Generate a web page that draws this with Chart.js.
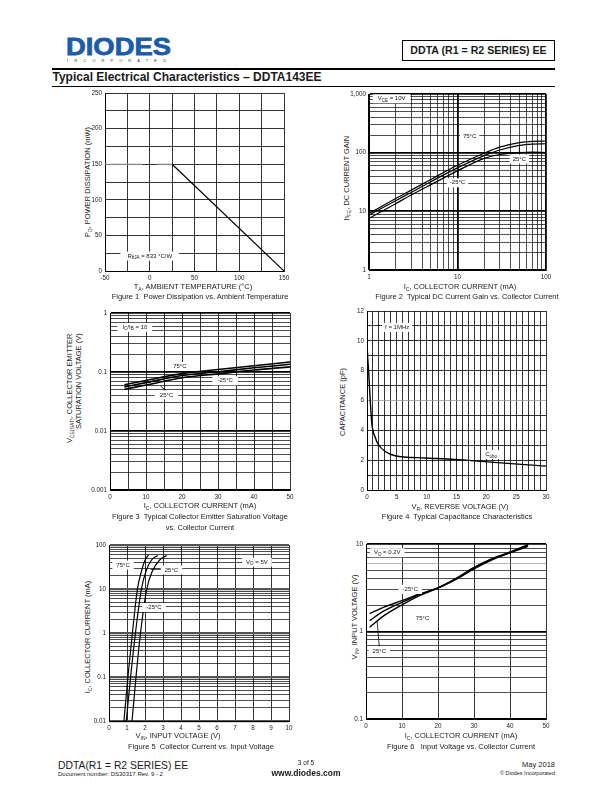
<!DOCTYPE html>
<html>
<head>
<meta charset="utf-8">
<script src="https://cdn.jsdelivr.net/npm/chart.js@4"></script>
<style>
body{margin:0;width:612px;height:792px;position:relative;background:#fff;font-family:"Liberation Sans",Arial,sans-serif;color:#1a1a1a;overflow:hidden}
.t{position:absolute;white-space:nowrap;transform:translate(-50%,-50%);font-size:7.5px;line-height:1;will-change:transform}
.v{transform:translate(-50%,-50%) rotate(-90deg);will-change:auto}
.cap{font-size:7.5px}
sub{font-size:5px;vertical-align:-1.5px;line-height:0}
canvas{position:absolute}
</style>
</head>
<body>
<!-- header -->
<div style="position:absolute;left:66px;top:35px;font:bold 24px 'Liberation Sans';color:#1d5ca8;line-height:1;-webkit-text-stroke:0.8px #1d5ca8;transform:scaleX(1.14);transform-origin:left top">DIODES</div>
<div style="position:absolute;left:67px;top:59px;font-size:4px;letter-spacing:6.1px;color:#333;line-height:1">INCORPORATED</div>
<div style="position:absolute;left:402px;top:40px;width:151px;height:19px;border:1px solid #000;font:bold 10.6px 'Liberation Sans';line-height:19px;text-align:center">DDTA (R1 = R2 SERIES) EE</div>
<div style="position:absolute;left:52px;top:67.5px;width:503px;height:2.5px;background:#000"></div>
<div style="position:absolute;left:52.5px;top:71.4px;font:bold 12px 'Liberation Sans';line-height:1">Typical Electrical Characteristics – DDTA143EE</div>
<div style="position:absolute;left:52px;top:86px;width:503px;height:1px;background:#000"></div>

<!-- figure 1 -->
<div class="t v" style="left:88px;top:182px">P<sub>D</sub>, POWER DISSIPATION (mW)</div>
<div class="t" style="left:193px;top:287px">T<sub>A</sub>, AMBIENT TEMPERATURE (°C)</div>
<div class="t cap" style="left:200px;top:296.5px">Figure 1&nbsp; Power Dissipation vs. Ambient Temperature</div>
<!-- figure 2 -->
<div class="t v" style="left:347px;top:178px">h<sub>FE</sub>, DC CURRENT GAIN</div>
<div class="t" style="left:460px;top:287px">I<sub>C</sub>, COLLECTOR CURRENT (mA)</div>
<div class="t cap" style="left:467px;top:297px">Figure 2&nbsp; Typical DC Current Gain vs. Collector Current</div>
<!-- figure 3 -->
<div style="position:absolute;left:66px;top:333px;height:155px;writing-mode:vertical-rl;transform:rotate(180deg);text-align:end;font-size:7.5px;line-height:8.5px;white-space:nowrap">V<sub>CE(SAT)</sub>, COLLECTOR EMITTER<br>SATURATION VOLTAGE (V)</div>
<div class="t" style="left:200px;top:506px">I<sub>C</sub>, COLLECTOR CURRENT (mA)</div>
<div class="t cap" style="left:200px;top:516.5px">Figure 3&nbsp; Typical Collector Emitter Saturation Voltage</div>
<div class="t cap" style="left:200px;top:528px">vs. Collector Current</div>
<!-- figure 4 -->
<div class="t v" style="left:343px;top:402px">CAPACITANCE (pF)</div>
<div class="t" style="left:460px;top:507px">V<sub>R</sub>, REVERSE VOLTAGE (V)</div>
<div class="t cap" style="left:457px;top:517px">Figure 4&nbsp; Typical Capacitance Characteristics</div>
<!-- figure 5 -->
<div class="t v" style="left:88px;top:637px">I<sub>C</sub>, COLLECTOR CURRENT (mA)</div>
<div class="t" style="left:178px;top:736px">V<sub>IN</sub>, INPUT VOLTAGE (V)</div>
<div class="t cap" style="left:201px;top:746.5px">Figure 5&nbsp; Collector Current vs. Input Voltage</div>
<!-- figure 6 -->
<div class="t v" style="left:355px;top:617px">V<sub>IN</sub>, INPUT VOLTAGE (V)</div>
<div class="t" style="left:461px;top:736px">I<sub>C</sub>, COLLECTOR CURRENT (mA)</div>
<div class="t cap" style="left:461px;top:747px">Figure 6&nbsp;&nbsp; Input Voltage vs. Collector Current</div>

<!-- footer -->
<div style="position:absolute;left:58px;top:760px;font-size:11.5px;line-height:1;transform:scaleX(0.9);transform-origin:left top">DDTA(R1 = R2 SERIES) EE</div>
<div style="position:absolute;left:58px;top:771px;font-size:6px;line-height:1">Document number: DS30317 Rev. 9 - 2</div>
<div class="t" style="left:306px;top:763px;font-size:6.5px">3 of 5</div>
<div class="t" style="left:306px;top:772.5px;font-size:8.5px;font-weight:bold">www.diodes.com</div>
<div style="position:absolute;right:57px;top:761px;font-size:7.5px;line-height:1">May 2018</div>
<div style="position:absolute;right:57px;top:770.5px;font-size:5.5px;line-height:1">© Diodes Incorporated</div>

<script>
// Figure 1: power dissipation vs ambient temperature
const c1FlatTemp = [-50, -8, 0, 8, 25];
const c1FlatPd = [150, 150, null, 150, 150];
const c1Temp = [25, 150];
const c1Pd = [150, 0];

// Figure 2: DC current gain vs collector current
const c2Ic = [1, 2, 3, 5, 10, 20, 30, 50, 70, 100];
const c2Hfe75 = [9.2, 16.5, 23, 35, 61, 98, 124, 148, 156, 158];
const c2Hfe25 = [8.6, 15.2, 21, 32, 55, 89, 111, 133, 140, 142];
const c2HfeM25 = [7.6, 13.5, 19, 28.5, 49, 80, 93, 100, 102, 100];
const c2ArrowX = [50, 50];
const c2ArrowY = [89, 125];

// Figure 3: VCE(sat) vs collector current
const c3Ic = [4, 10, 20, 30, 40, 50];
const c3Vce75 = [0.061, 0.072, 0.094, 0.11, 0.128, 0.148];
const c3VceM25 = [0.056, 0.066, 0.087, 0.101, 0.118, 0.135];
const c3Vce25 = [0.051, 0.060, 0.080, 0.093, 0.108, 0.122];
const c3ArrowX = [16, 14];
const c3ArrowY = [0.046, 0.058];

// Figure 4: capacitance vs reverse voltage
const c4Vr = [0, 0.1, 0.28, 0.55, 0.83, 1.4, 1.9, 3, 4.7, 9.7, 14.7, 19.7, 24.7, 30];
const c4Cobo = [9.8, 9.0, 7.9, 5.95, 4.4, 3.5, 3.05, 2.6, 2.3, 2.15, 2.05, 1.9, 1.75, 1.6];

// Figure 5: collector current vs input voltage
const c5Vin75 = [0.83, 1.05, 1.3, 1.58, 1.8, 2.0, 2.2];
const c5Ic75 = [0.01, 0.1, 1, 10, 25, 45, 60];
const c5Vin25 = [0.96, 1.2, 1.47, 1.8, 2.05, 2.35, 2.7];
const c5Ic25 = [0.01, 0.1, 1, 10, 25, 45, 58];
const c5VinM25 = [1.28, 1.5, 1.75, 2.1, 2.4, 2.8, 3.2];
const c5IcM25 = [0.01, 0.1, 1, 10, 25, 45, 58];
const c5ArrowX = [2.9, 2.3];
const c5ArrowY = [28, 28];

// Figure 6: input voltage vs collector current
const c6Ic = [1, 5, 10, 15, 20, 25, 30, 35, 40, 45];
const c6VinM25 = [1.6, 1.9, 2.25, 2.7, 3.15, 3.95, 5.2, 6.6, 7.9, 9.4];
const c6Vin25 = [1.33, 1.72, 2.15, 2.65, 3.15, 4.0, 5.3, 6.7, 8.0, 9.6];
const c6Vin75 = [1.12, 1.52, 2.02, 2.58, 3.15, 4.05, 5.4, 6.8, 8.1, 9.8];
const c6ArrowX = [3.7, 3.1];
const c6ArrowY = [0.66, 1.32];

const FONT = "'Liberation Sans', Arial, sans-serif";
Chart.defaults.font.family = FONT;
Chart.defaults.font.size = 6.3;
Chart.defaults.color = '#222';
Chart.defaults.animation = false;

const YW = 40, PT = 8, PR = 14, XH = 14;
const fitY = s => { s.width = YW; };
const fitX = s => { s.height = XH; };

function isDecade(v) {
  const l = Math.log10(v);
  return Math.abs(l - Math.round(l)) < 1e-6;
}
function logTicks(min, max) {
  const out = [];
  for (let e = Math.round(Math.log10(min)); e < Math.round(Math.log10(max)); e++) {
    for (let m = 1; m < 10; m++) out.push(+(m * Math.pow(10, e)).toPrecision(6));
  }
  out.push(max);
  return out;
}

function linearAxis(min, max, step, labelStep, fit, gridColor) {
  return {
    type: 'linear', min, max,
    ticks: {
      stepSize: step, autoSkip: false, maxRotation: 0, padding: 3,
      callback: v => (Math.abs(v / labelStep - Math.round(v / labelStep)) < 1e-6 ? String(v) : '')
    },
    grid: { color: gridColor || '#000', lineWidth: 0.8, drawTicks: false },
    border: { color: '#000', width: 1 },
    afterFit: fit
  };
}
function logAxis(min, max, fmt, fit, decadeWidth, gridColor) {
  return {
    type: 'logarithmic', min, max,
    afterBuildTicks: s => { s.ticks = logTicks(min, max).map(v => ({ value: v })); },
    ticks: { autoSkip: false, maxRotation: 0, padding: 3, callback: v => (isDecade(v) ? fmt(v) : '') },
    grid: {
      color: gridColor || '#000',
      lineWidth: c => (c.tick && isDecade(c.tick.value) ? (decadeWidth || 1.8) : 0.7),
      drawTicks: false
    },
    border: { color: '#000', width: 1 },
    afterFit: fit
  };
}

function line(xs, ys, extra) {
  return Object.assign({
    data: xs.map((x, i) => ({ x, y: ys[i] })),
    showLine: true, pointRadius: 0, borderColor: '#000', borderWidth: 1.2, fill: false
  }, extra);
}
const curve = { cubicInterpolationMode: 'monotone' };

// white-boxed text notes placed in data coordinates
const notesPlugin = {
  id: 'notes',
  afterDatasetsDraw(chart, args, opts) {
    const { ctx, scales: { x, y } } = chart;
    ctx.save();
    (opts.items || []).forEach(n => {
      const parts = n.text.split(/(_\{[^}]*\})/).filter(Boolean)
        .map(p => (p.startsWith('_{') ? { s: p.slice(2, -1), sub: true } : { s: p, sub: false }));
      const fs = n.size || 6, ss = fs * 0.75;
      let w = 0;
      parts.forEach(p => {
        ctx.font = (p.sub ? ss : fs) + 'px ' + FONT;
        p.w = ctx.measureText(p.s).width;
        w += p.w;
      });
      const cx = x.getPixelForValue(n.x), cy = y.getPixelForValue(n.y);
      const pad = n.pad === undefined ? 3 : n.pad;
      ctx.fillStyle = '#fff';
      ctx.fillRect(cx - w / 2 - pad, cy - 4.5, w + 2 * pad, 9);
      ctx.fillStyle = '#111';
      ctx.textBaseline = 'middle';
      ctx.textAlign = 'left';
      let px = cx - w / 2;
      parts.forEach(p => {
        ctx.font = (p.sub ? ss : fs) + 'px ' + FONT;
        ctx.fillText(p.s, px, cy + (p.sub ? 1.8 : 0));
        px += p.w;
      });
    });
    ctx.restore();
  }
};
Chart.register(notesPlugin);

function mount(rect) {
  const cv = document.createElement('canvas');
  const w = rect[2] - rect[0] + YW + PR, h = rect[3] - rect[1] + PT + XH;
  cv.width = w; cv.height = h;
  cv.style.left = (rect[0] - YW) + 'px';
  cv.style.top = (rect[1] - PT) + 'px';
  cv.style.width = w + 'px';
  cv.style.height = h + 'px';
  document.body.appendChild(cv);
  return cv;
}
function options(scales, items) {
  return {
    responsive: false, animation: false,
    layout: { padding: { top: PT, right: PR, left: 0, bottom: 0 } },
    plugins: { legend: { display: false }, tooltip: { enabled: false }, notes: { items } },
    scales
  };
}

// Figure 1
new Chart(mount([105, 93, 284, 271]), {
  type: 'scatter',
  data: { datasets: [
    line(c1FlatTemp, c1FlatPd, { borderColor: '#aaa', borderWidth: 1, spanGaps: false }),
    line(c1Temp, c1Pd, { borderWidth: 1.2 })
  ] },
  options: options({
    x: linearAxis(-50, 150, 25, 50, fitX),
    y: linearAxis(0, 250, 25, 50, fitY)
  }, [{ x: 0, y: 21, text: 'R_{θJA} = 833 °C/W', pad: 7 }])
});

// Figure 2
new Chart(mount([369, 94, 546, 270]), {
  type: 'scatter',
  data: { datasets: [
    line(c2Ic, c2Hfe75, curve),
    line(c2Ic, c2Hfe25, curve),
    line(c2Ic, c2HfeM25, curve),
    line(c2ArrowX, c2ArrowY, { borderWidth: 0.8 })
  ] },
  options: options({
    x: logAxis(1, 100, v => String(v), fitX),
    y: logAxis(1, 1000, v => v.toLocaleString('en-US'), fitY)
  }, [
    { x: 1.8, y: 830, text: 'V_{CE} = 10V', pad: 5 },
    { x: 13.7, y: 187, text: '75°C' },
    { x: 50, y: 78, text: '25°C' },
    { x: 10, y: 30.6, text: '-25°C' }
  ])
});

// Figure 3
new Chart(mount([110, 313, 290, 490]), {
  type: 'scatter',
  data: { datasets: [
    line(c3Ic, c3Vce75, Object.assign({ borderWidth: 1.6 }, curve)),
    line(c3Ic, c3VceM25, Object.assign({ borderWidth: 1.6 }, curve)),
    line(c3Ic, c3Vce25, Object.assign({ borderWidth: 1.6 }, curve)),
    line(c3ArrowX, c3ArrowY, { borderWidth: 0.8 })
  ] },
  options: options({
    x: linearAxis(0, 50, 5, 10, fitX),
    y: logAxis(0.001, 1, v => String(v), fitY)
  }, [
    { x: 6.9, y: 0.57, text: 'I_{C}/I_{B} = 10', pad: 5 },
    { x: 19.4, y: 0.124, text: '75°C' },
    { x: 32, y: 0.071, text: '-25°C', pad: 5 },
    { x: 15.7, y: 0.041, text: '25°C', pad: 5 }
  ])
});

// Figure 4
new Chart(mount([367, 311, 546, 490]), {
  type: 'scatter',
  data: { datasets: [
    line(c4Vr, c4Cobo, Object.assign({ borderWidth: 1.4 }, curve))
  ] },
  options: options({
    x: linearAxis(0, 30, 1, 5, fitX),
    y: linearAxis(0, 12, 1, 2, fitY, c => (c.tick && c.tick.value === 6 ? '#999' : '#000'))
  }, [
    { x: 5.05, y: 10.9, text: 'f = 1MHz' },
    { x: 20.8, y: 2.38, text: 'C_{obo}' }
  ])
});

// Figure 5
new Chart(mount([109, 545, 289, 721]), {
  type: 'scatter',
  data: { datasets: [
    line(c5Vin75, c5Ic75, curve),
    line(c5Vin25, c5Ic25, curve),
    line(c5VinM25, c5IcM25, curve),
    line(c5ArrowX, c5ArrowY, { borderWidth: 0.8 })
  ] },
  options: options({
    x: linearAxis(0, 10, 1, 1, fitX),
    y: logAxis(0.01, 100, v => String(v), fitY, 2.2, c => (c.tick && isDecade(c.tick.value) ? '#555' : '#000'))
  }, [
    { x: 0.78, y: 35, text: '75°C', pad: 4 },
    { x: 3.47, y: 27, text: '25°C', pad: 4 },
    { x: 2.5, y: 3.8, text: '-25°C', pad: 4 },
    { x: 8.22, y: 40.5, text: 'V_{O} = 5V', pad: 4 }
  ])
});

// Figure 6
new Chart(mount([366, 544, 546, 719]), {
  type: 'scatter',
  data: { datasets: [
    line(c6Ic, c6VinM25, Object.assign({ borderWidth: 1.4 }, curve)),
    line(c6Ic, c6Vin25, Object.assign({ borderWidth: 1.4 }, curve)),
    line(c6Ic, c6Vin75, Object.assign({ borderWidth: 1.4 }, curve)),
    line(c6ArrowX, c6ArrowY, { borderWidth: 0.8 })
  ] },
  options: options({
    x: linearAxis(0, 50, 10, 10, fitX),
    y: logAxis(0.1, 10, v => String(v), fitY, 1.8, c => (c.tick && Math.abs(c.tick.value - 6) < 1e-6 ? '#999' : '#000'))
  }, [
    { x: 5.9, y: 7.95, text: 'V_{O} = 0.2V', pad: 4 },
    { x: 12.3, y: 3.03, text: '-25°C', pad: 4 },
    { x: 15.7, y: 1.42, text: '75°C', pad: 4 },
    { x: 3.7, y: 0.6, text: '25°C', pad: 4 }
  ])
});
</script>
</body>
</html>
